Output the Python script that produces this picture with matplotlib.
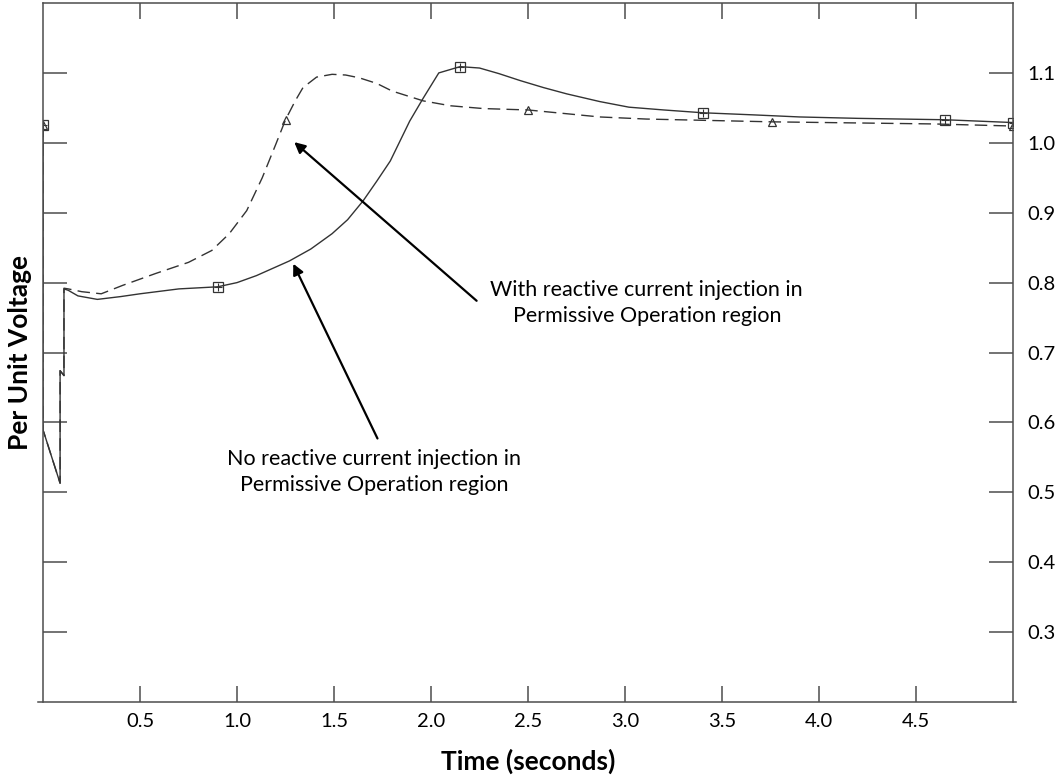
import matplotlib
matplotlib.use('Agg')
import matplotlib.pyplot as plt

plt.rcParams['font.family'] = ['Lato', 'DejaVu Sans']

# Без инжекции реактивного тока (сплошная линия)
t_no = [0, 0, 0.005, 0.088, 0.088, 0.108, 0.108, 0.13, 0.18, 0.28, 0.40, 0.50, 0.70,
        0.90, 1.00, 1.10, 1.27, 1.38, 1.49, 1.57, 1.65, 1.72, 1.79, 1.89, 1.96, 2.04,
        2.15, 2.25, 2.35, 2.46, 2.58, 2.70, 2.87, 3.02, 3.20, 3.40, 3.66, 3.90, 4.20,
        4.65, 5.0]
v_no = [1.026, 0.589, 0.585, 0.513, 0.674, 0.667, 0.791, 0.789, 0.781, 0.776, 0.780,
        0.784, 0.791, 0.794, 0.800, 0.810, 0.831, 0.848, 0.870, 0.890, 0.917, 0.945,
        0.974, 1.031, 1.064, 1.100, 1.109, 1.107, 1.099, 1.089, 1.079, 1.070, 1.059,
        1.051, 1.047, 1.043, 1.040, 1.037, 1.035, 1.033, 1.029]
marks_no = [0, 0.90, 2.15, 3.40, 4.65, 5.0]

# С инжекцией реактивного тока (пунктир)
t_inj = [0, 0, 0.005, 0.088, 0.088, 0.108, 0.108, 0.13, 0.20, 0.30, 0.41, 0.58, 0.75,
         0.87, 0.96, 1.05, 1.13, 1.20, 1.25, 1.30, 1.34, 1.41, 1.49, 1.56, 1.63, 1.72,
         1.80, 1.96, 2.10, 2.27, 2.50, 2.87, 3.11, 3.76, 4.59, 5.0]
v_inj = [1.026, 0.589, 0.585, 0.513, 0.674, 0.667, 0.792, 0.791, 0.787, 0.784, 0.796,
         0.813, 0.829, 0.846, 0.870, 0.903, 0.950, 0.998, 1.033, 1.060, 1.079, 1.094,
         1.098, 1.097, 1.093, 1.085, 1.074, 1.060, 1.053, 1.049, 1.047, 1.037, 1.034,
         1.030, 1.027, 1.024]
marks_inj = [0, 1.25, 2.50, 3.76, 5.0]

x_ticks = [0.5, 1.0, 1.5, 2.0, 2.5, 3.0, 3.5, 4.0, 4.5]
y_ticks = [0.3, 0.4, 0.5, 0.6, 0.7, 0.8, 0.9, 1.0, 1.1]

label_inj = 'With reactive current injection in\nPermissive Operation region'
label_no = 'No reactive current injection in\nPermissive Operation region'

fig = plt.figure(figsize=(10.57, 7.75), dpi=100)
ax = fig.add_axes([0.0407, 0.0942, 0.9177, 0.9019])

line_color = '#333333'
idx_no = [t_no.index(t) for t in marks_no]
idx_inj = [t_inj.index(t) for t in marks_inj]

ax.plot(t_no, v_no, color=line_color, lw=1.0, marker='s', markevery=idx_no,
        markersize=6.5, fillstyle='none', markeredgewidth=0.9)
ax.plot(t_no, v_no, color=line_color, lw=0, marker='+', markevery=idx_no,
        markersize=5.5, markeredgewidth=0.8)
ax.plot(t_inj, v_inj, color=line_color, lw=1.0, linestyle=(0, (9, 4.5)), marker='^',
        markevery=idx_inj, markersize=5.5, fillstyle='none', markeredgewidth=0.9)

# Стрелки и подписи
ax.annotate('', xy=(1.295, 1.001), xytext=(2.235, 0.774),
            arrowprops=dict(arrowstyle='-|>', color='black', lw=1.6,
                            mutation_scale=16, shrinkA=0, shrinkB=0))
ax.annotate('', xy=(1.290, 0.827), xytext=(1.724, 0.577),
            arrowprops=dict(arrowstyle='-|>', color='black', lw=1.6,
                            mutation_scale=16, shrinkA=0, shrinkB=0))
ax.text(3.112, 0.771, label_inj, ha='center', va='center', fontsize=15.5,
        linespacing=1.4, color='black')
ax.text(1.708, 0.529, label_no, ha='center', va='center', fontsize=15.5,
        linespacing=1.4, color='black')

ax.set_xlim(0, 5.0)
ax.set_ylim(0.2, 1.2)
ax.set_xticks(x_ticks)
ax.set_xticklabels([f'{x:.1f}' for x in x_ticks])
ax.set_yticks(y_ticks)
ax.set_yticklabels([f'{y:.1f}' for y in y_ticks])

spine_color = '#4d4d4d'
for s in ax.spines.values():
    s.set_color(spine_color)
    s.set_linewidth(1.1)
ax.spines['bottom'].set_bounds(-0.025, 5.015)

ax.tick_params(axis='x', which='both', direction='in', top=True, bottom=True,
               length=11.5, width=1.1, color=spine_color, labelsize=14.5, pad=8)
ax.tick_params(axis='y', which='both', direction='in', left=True, right=True,
               labelleft=False, labelright=True, length=17, width=1.1,
               color=spine_color, labelsize=14.5, pad=10)

ax.set_xlabel('Time (seconds)', fontsize=19, fontweight='bold', labelpad=13)
ax.set_ylabel('Per Unit Voltage', fontsize=19, fontweight='bold', labelpad=8)

fig.savefig('out.png', dpi=100)
